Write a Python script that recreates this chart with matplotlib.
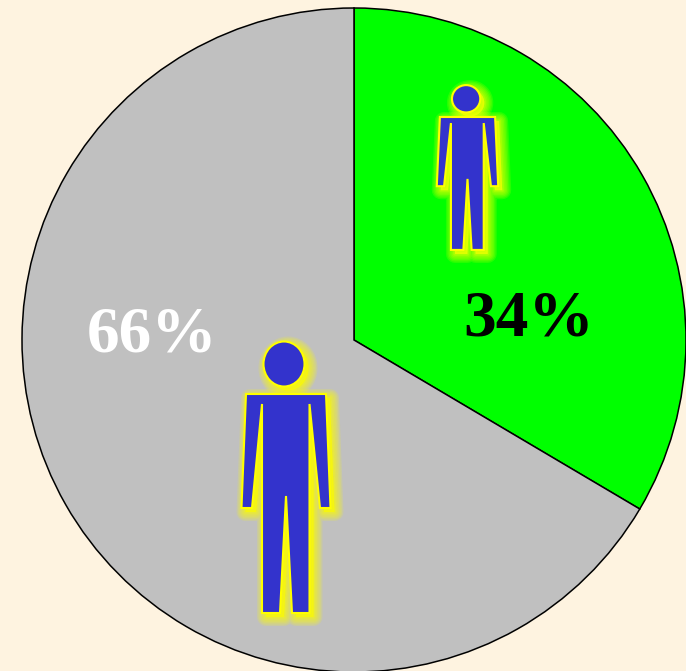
import matplotlib.pyplot as plt
from matplotlib.patches import Polygon, Ellipse

plt.rcParams['font.family'] = ['Liberation Serif', 'DejaVu Serif']

labels = ["34%", "66%"]
shares = [33.5, 66.5]
colors = ["#00FF00", "#C0C0C0"]
label_colors = ["black", "white"]
label_pos = [(529, 352), (152, 335)]

# person outline, pixels relative to crotch x and shoulder y
body_x = [-40, 40, 44.5, 34, 23.5, 23.5, 6, 0, -6, -24, -24, -34, -44.5]
body_y = [0, 0, 114, 114, 10, 219, 219, 102, 219, 219, 10, 114, 114]
head_dy = 30
head_w = 41
head_h = 45

# (x, shoulder y from bottom, x scale, y scale)
people = [(467.5, 554, 0.69, 0.607), (286, 277, 1.0, 1.0)]

fig = plt.figure(figsize=(6.86, 6.71), dpi=100, facecolor="#FEF3E0")
ax = fig.add_axes([0, 0, 1, 1])

ax.pie(shares, colors=colors, startangle=90, counterclock=False,
       center=(354, 331), radius=332,
       wedgeprops={"edgecolor": "black", "linewidth": 1.1})
ax.set_xlim(0, 686)
ax.set_ylim(0, 671)
ax.set_aspect("equal")
ax.axis("off")

for (px, py, sx, sy) in people:
    pts = [(px + x * sx, py - y * sy) for x, y in zip(body_x, body_y)]
    head = (px - 2 * sx, py + head_dy * sy)
    hw = head_w * sx
    hh = head_h * sy

    # soft yellow glow, shifted to lower right
    off = 4
    for lw in [13, 11, 9, 7, 5, 3, 2]:
        shifted = [(x + off, y - off) for x, y in pts]
        ax.add_patch(Polygon(shifted, closed=True, facecolor="#FFFF00", edgecolor="#FFFF00",
                             linewidth=lw, alpha=0.15, joinstyle="round"))
        ax.add_patch(Ellipse((head[0] + off, head[1] - off), hw, hh, facecolor="#FFFF00",
                             edgecolor="#FFFF00", linewidth=lw, alpha=0.15))

    ax.add_patch(Polygon(pts, closed=True, facecolor="#3333CC", edgecolor="#FFFF00",
                         linewidth=1.5, joinstyle="miter"))
    ax.add_patch(Ellipse(head, hw, hh, facecolor="#3333CC", edgecolor="#FFFF00", linewidth=1.5))

for text, color, (tx, ty) in zip(labels, label_colors, label_pos):
    ax.text(tx, ty, text, color=color, fontsize=47, fontweight="bold",
            ha="center", va="center")

fig.savefig("out.png", dpi=100, facecolor=fig.get_facecolor())
